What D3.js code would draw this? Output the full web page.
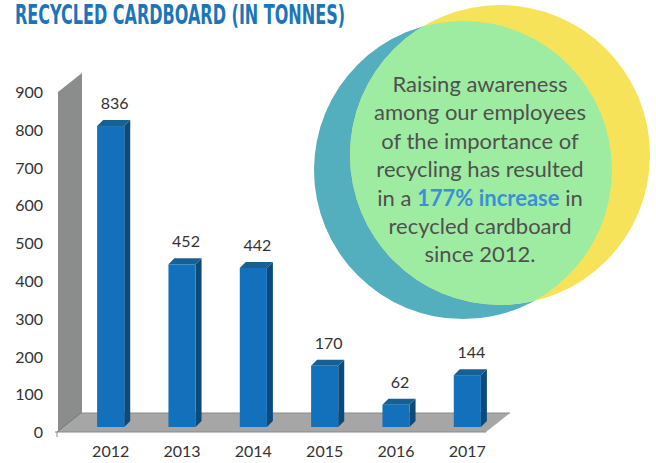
<!DOCTYPE html>
<html>
	<head>
		<title>Recycled cardboard</title>
		<meta charset="utf-8">
		<style>
			body { margin: 0; background: #fff; }
			svg { display: block; }
			.num { font-family: Lato, "Open Sans", sans-serif; font-size: 16px; fill: #333; }
			.axis text { font-family: Lato, "Open Sans", sans-serif; font-size: 16px; fill: #333; }
			.note { font-family: Lato, "Open Sans", sans-serif; font-size: 22px; fill: #505050; }
		</style>
	</head>
	<body>
		<svg id="chart" width="656" height="463"></svg>

		<script src="https://d3js.org/d3.v7.min.js"></script>
		<script>
			var years = ["2012", "2013", "2014", "2015", "2016", "2017"];
			var tonnes = [836, 452, 442, 170, 62, 144];
			var yTicks = [0, 100, 200, 300, 400, 500, 600, 700, 800, 900];
			var noteLines = [
			  ["Raising awareness"],
			  ["among our employees"],
			  ["of the importance of"],
			  ["recycling has resulted"],
			  ["in a ", "177% increase", " in"],
			  ["recycled cardboard"],
			  ["since 2012."]
			];

			var svg = d3.select("#chart");

			// 3d offsets: wall depth and bar depth
			var wallDx = 24, wallDy = -19,
			    barDx = 6, barDy = -6;

			var x = d3.scaleBand().domain(years).range([75, 503]).paddingInner(0.62).paddingOuter(0.31),
			    yAxisScale = d3.scaleLinear().domain([0, 900]).range([432, 92]),
			    y = d3.scaleLinear().domain([0, 900]).range([427, 103]);

			// title
			svg.append("text")
			    .attr("x", 15)
			    .attr("y", 24)
			    .attr("textLength", 330)
			    .attr("lengthAdjust", "spacingAndGlyphs")
			    .style("font-family", "'Liberation Sans Narrow', 'DejaVu Sans Condensed', sans-serif")
			    .style("font-weight", "bold")
			    .style("font-size", "26px")
			    .style("fill", "#1a75bb")
			    .text("RECYCLED CARDBOARD (IN TONNES)");

			// side wall
			var wx = 58, y0 = yAxisScale(0), yTop = yAxisScale(900);
			svg.append("polygon")
			    .attr("points", [[wx, y0], [wx, yTop], [wx + wallDx, yTop + wallDy], [wx + wallDx, y0 + wallDy]].join(" "))
			    .attr("fill", "#8b8d8c");

			// floor
			var fx0 = 57, fx1 = 486;
			svg.append("polygon")
			    .attr("points", [[fx0, y0], [fx0 + wallDx, y0 + wallDy], [fx1 + wallDx, y0 + wallDy], [fx1, y0]].join(" "))
			    .attr("fill", "#a6a6a6");
			svg.append("line")
			    .attr("x1", fx0 + wallDx).attr("y1", y0 + wallDy)
			    .attr("x2", fx1 + wallDx).attr("y2", y0 + wallDy)
			    .attr("stroke", "#8a8a8a");
			svg.append("line")
			    .attr("x1", fx0).attr("y1", y0)
			    .attr("x2", fx0 + wallDx).attr("y2", y0 + wallDy)
			    .attr("stroke", "#7a7a7a");
			svg.append("line")
			    .attr("x1", fx0 - 2).attr("y1", y0)
			    .attr("x2", fx1).attr("y2", y0)
			    .attr("stroke", "#8a8a8a");
			svg.append("line")
			    .attr("x1", fx0).attr("y1", y0)
			    .attr("x2", fx0).attr("y2", y0 + 5)
			    .attr("stroke", "#8a8a8a");

			// y axis labels
			svg.append("g")
			    .attr("class", "axis")
			    .attr("transform", "translate(47,0)")
			    .call(d3.axisLeft(yAxisScale).tickValues(yTicks).tickSize(0).tickPadding(4))
			    .call(function(g) { g.select(".domain").remove(); })
			    .selectAll("text").attr("dy", "0.35em");

			// x axis labels
			svg.append("g")
			    .attr("class", "axis")
			    .attr("transform", "translate(0,446)")
			    .call(d3.axisBottom(x).tickSize(0).tickPadding(0))
			    .call(function(g) { g.select(".domain").remove(); })
			    .selectAll("text").attr("dy", "0.71em");

			var data = years.map(function(d, i) { return {year: d, value: tonnes[i]}; });
			var bw = x.bandwidth();

			var bars = svg.selectAll(".bar")
			    .data(data)
			    .enter().append("g")
			      .attr("class", "bar");

			// side face
			bars.append("polygon")
			    .attr("points", function(d) {
			      var l = x(d.year) + bw, t = y(d.value), b = y(0);
			      return [[l, b], [l, t], [l + barDx, t + barDy], [l + barDx, b + barDy]].join(" ");
			    })
			    .attr("fill", "#0c4a7b");

			// top face
			bars.append("polygon")
			    .attr("points", function(d) {
			      var l = x(d.year), t = y(d.value);
			      return [[l, t], [l + barDx, t + barDy], [l + bw + barDx, t + barDy], [l + bw, t]].join(" ");
			    })
			    .attr("fill", "#185f93");

			// front face
			bars.append("rect")
			    .attr("x", function(d) { return x(d.year); })
			    .attr("y", function(d) { return y(d.value); })
			    .attr("width", bw)
			    .attr("height", function(d) { return y(0) - y(d.value); })
			    .attr("fill", "#1271ba");

			bars.append("text")
			    .attr("class", "num")
			    .attr("x", function(d) { return x(d.year) + bw / 2 + 4; })
			    .attr("y", function(d) { return y(d.value) + barDy - 11; })
			    .attr("text-anchor", "middle")
			    .text(function(d) { return d.value; });

			// the two circles and their overlap
			var teal = {cx: 463, cy: 170, r: 149},
			    yellow = {cx: 500, cy: 155, r: 150};

			svg.append("clipPath")
			    .attr("id", "tealClip")
			  .append("circle")
			    .attr("cx", teal.cx).attr("cy", teal.cy).attr("r", teal.r);

			svg.append("circle")
			    .attr("cx", teal.cx).attr("cy", teal.cy).attr("r", teal.r)
			    .attr("fill", "#53aebd");
			svg.append("circle")
			    .attr("cx", yellow.cx).attr("cy", yellow.cy).attr("r", yellow.r)
			    .attr("fill", "#f7e35a");
			svg.append("circle")
			    .attr("cx", yellow.cx).attr("cy", yellow.cy).attr("r", yellow.r)
			    .attr("clip-path", "url(#tealClip)")
			    .attr("fill", "#9eeca2");

			var note = svg.append("text")
			    .attr("class", "note")
			    .attr("text-anchor", "middle");

			noteLines.forEach(function(parts, i) {
			  parts.forEach(function(p, j) {
			    var t = note.append("tspan").text(p);
			    if (j == 0) t.attr("x", 480).attr("y", 92 + i * 28.4);
			    if (p == "177% increase") t.style("font-weight", "bold").style("fill", "#3b8fd6");
			  });
			});
		</script>
	</body>
</html>
